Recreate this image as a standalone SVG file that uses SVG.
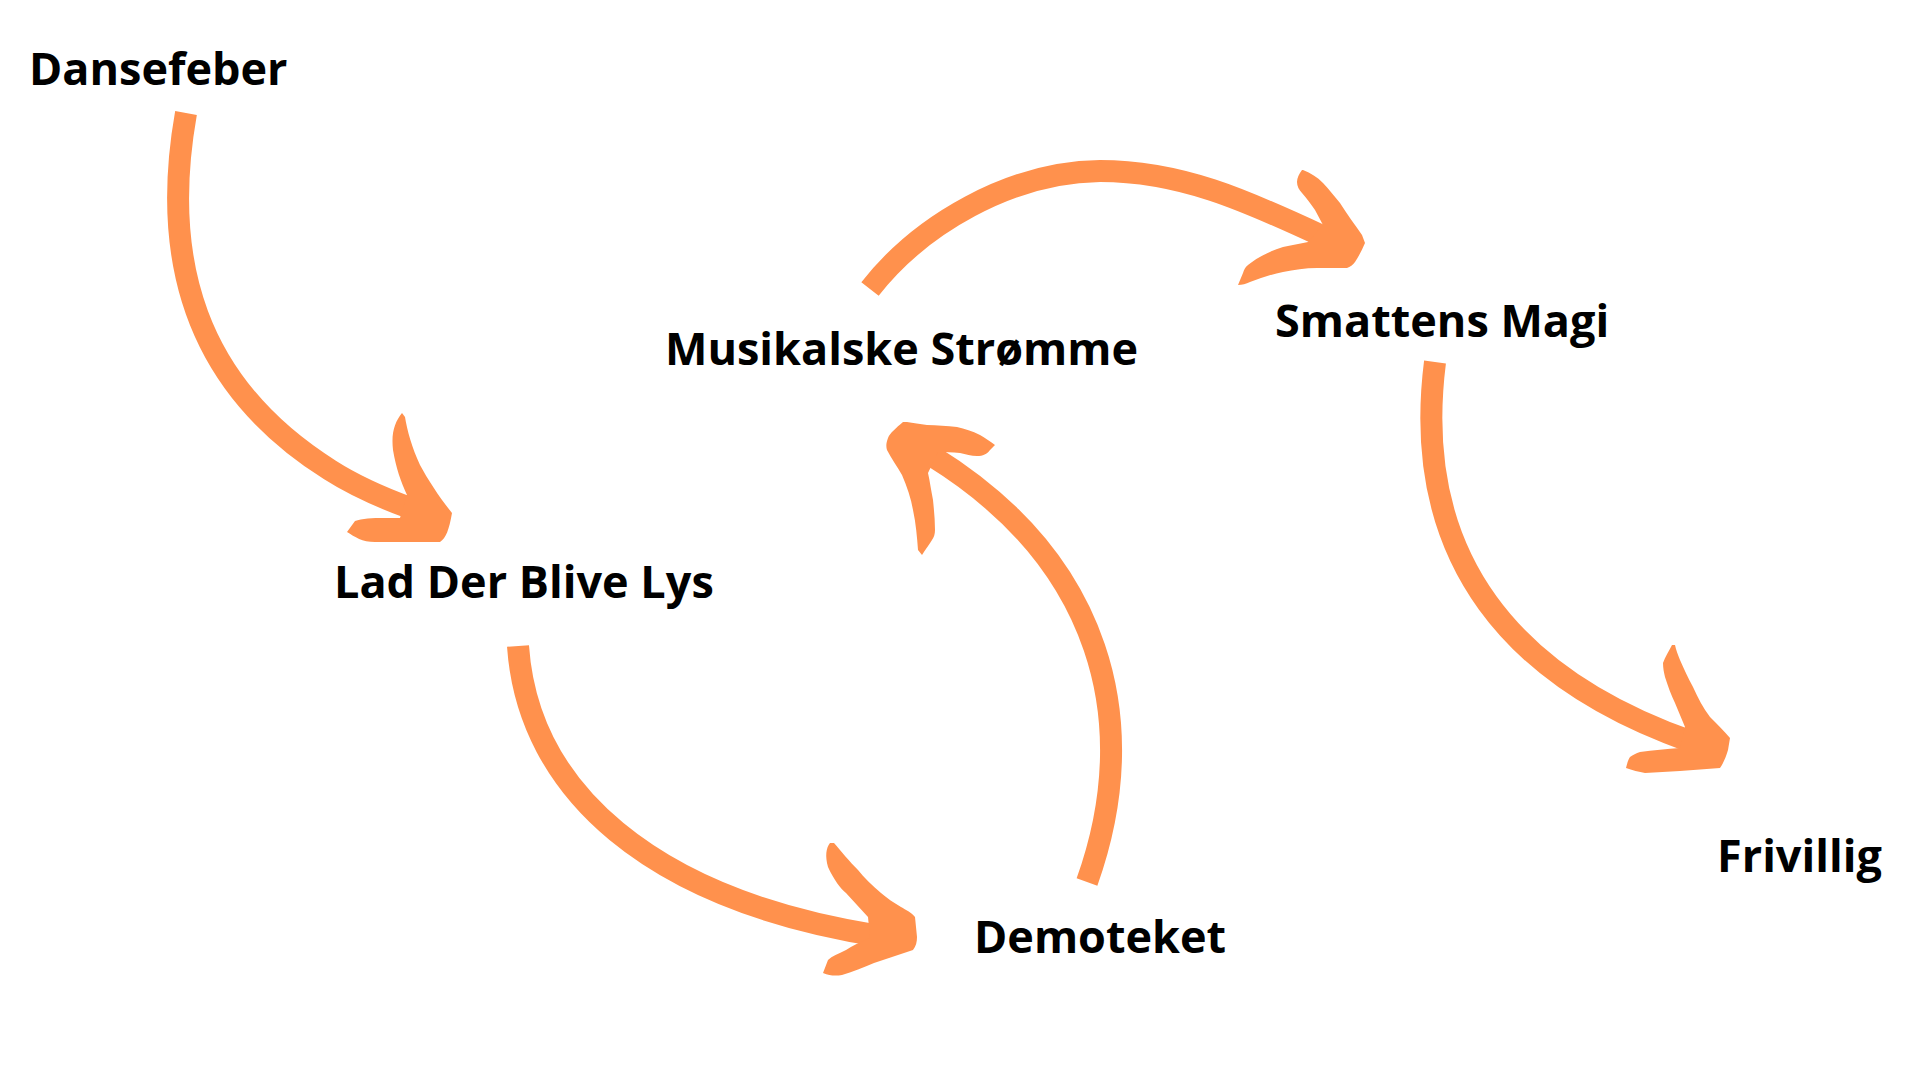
<svg xmlns="http://www.w3.org/2000/svg" width="1920" height="1080" viewBox="0 0 1920 1080">
<style>
.lbl{font-family:"Open Sans","Liberation Sans",sans-serif;font-weight:700;font-size:45px;fill:#000}
.shaft{fill:none;stroke:#FF914D;stroke-width:22;stroke-linecap:butt;stroke-linejoin:round}
.head{fill:#FF914D;stroke:none}
</style>
<rect width="1920" height="1080" fill="#FFFFFF"/>
<g id="connectors">
  <g id="arrow1">
    <path class="shaft" d="M186,113 C160,260 195,385 330,470 C355,486 380,497 410,508"/>
    <path class="head" d="M402,413 C395,422 391,432 393,450 C396,468 401,482 407,495 L400,518 C385,518 365,517 355,521 L347,532 C355,537 362,542 375,542 L440,542 C446,538 449,530 452,513 C440,498 428,480 420,465 C412,448 407,430 405,417 Z"/>
  </g>
  <g id="arrow2">
    <path class="shaft" d="M518,646 C528,790 650,900 880,936"/>
    <path class="head" d="M830,843 C826,848 825,856 828,867 C834,880 840,888 846,893 L868,917 L870,938 C860,942 852,946 846,950 C838,954 832,956 828,960 L823,973 C830,976 836,976 842,975 C852,972 864,967 874,963 L913,950 C916,946 917,942 917,937 L915,917 C911,912 906,910 901,907 C894,903 887,898 881,893 C872,885 864,878 858,870 C850,862 840,850 834,843 Z"/>
  </g>
  <g id="arrow3">
    <path class="shaft" d="M1087,882 C1145,720 1100,560 932,456"/>
    <path class="head" d="M903,422 C896,428 890,433 888,438 C886,443 886,447 887,450 C891,458 897,466 902,475 C907,487 911,498 913,510 C916,524 917,537 918,550 L922,555 C925,550 929,545 932,540 C934,537 935,534 935,530 C935,520 934,510 933,500 C931,490 930,482 928,473 L938,452 C945,452 952,452 960,453 C966,454 971,456 977,456 C983,456 987,454 990,450 L995,445 C990,441 985,438 980,435 C972,431 965,429 957,427 C947,426 937,425 927,425 C920,424 913,423 907,422 Z"/>
  </g>
  <g id="arrow4">
    <path class="shaft" d="M870,289 C920,225 1010,172 1100,171 C1180,171 1245,200 1322,236"/>
    <path class="head" d="M1302,170 C1299,174 1297,178 1297,182 C1297,186 1299,190 1302,193 C1307,199 1311,204 1315,210 L1323,225 L1308,242 C1300,244 1291,245 1283,247 C1270,251 1258,257 1248,265 C1245,267 1244,270 1243,273 L1238,285 C1242,285 1246,284 1250,282 C1261,278 1272,274 1283,272 C1294,270 1305,268 1317,268 L1347,268 C1350,267 1353,265 1355,262 C1359,256 1362,250 1365,243 L1362,235 C1355,225 1347,214 1340,203 C1334,196 1329,189 1323,183 C1317,177 1311,173 1303,170 Z"/>
  </g>
  <g id="arrow5">
    <path class="shaft" d="M1435,362 C1410,560 1515,680 1692,742"/>
    <path class="head" d="M1672,645 C1669,651 1665,657 1663,663 C1663,668 1664,673 1665,677 C1668,686 1671,695 1675,703 L1685,727 L1680,748 C1667,749 1653,750 1640,752 C1636,753 1633,755 1630,757 C1628,760 1627,764 1626,768 C1632,770 1639,772 1645,773 L1680,771 L1720,768 C1723,764 1726,757 1728,750 L1730,738 C1724,731 1717,724 1710,717 C1703,708 1698,698 1693,687 C1688,678 1684,669 1680,660 C1678,655 1676,650 1675,645 Z"/>
  </g>
</g>
<g id="node-dansefeber"><text class="lbl" x="29" y="85">Dansefeber</text></g>
<g id="node-lad-der-blive-lys"><text class="lbl" x="334" y="598">Lad Der Blive Lys</text></g>
<g id="node-musikalske-stromme"><text class="lbl" x="665" y="365">Musikalske Strømme</text></g>
<g id="node-smattens-magi"><text class="lbl" x="1275" y="337">Smattens Magi</text></g>
<g id="node-demoteket"><text class="lbl" x="974" y="953">Demoteket</text></g>
<g id="node-frivillig"><text class="lbl" x="1717" y="872">Frivillig</text></g>
</svg>
